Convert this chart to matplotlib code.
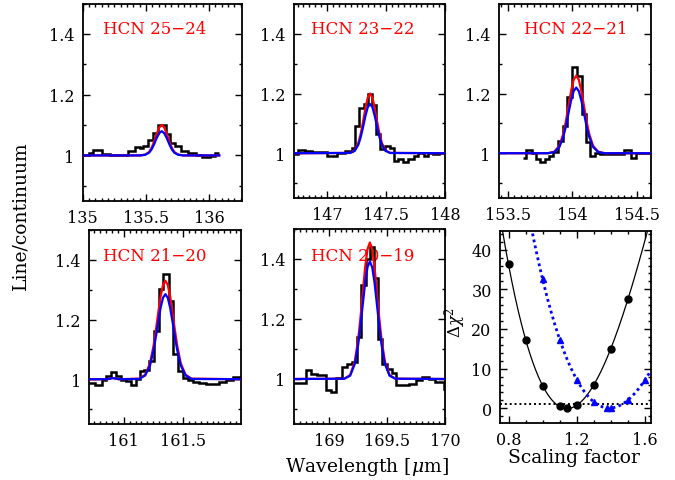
import numpy as np
import matplotlib
matplotlib.use("Agg")
import matplotlib.pyplot as plt
from matplotlib.ticker import MultipleLocator, FixedLocator, FuncFormatter

plt.rcParams['font.family'] = 'DejaVu Serif'
plt.rcParams['mathtext.fontset'] = 'dejavuserif'

# ---- observed spectra (bin edges, line/continuum) ----
edges1 = [135.00, 135.05, 135.085, 135.155, 135.215, 135.27, 135.36, 135.41, 135.45, 135.48,
          135.52, 135.555, 135.595, 135.655, 135.69, 135.73, 135.78, 135.83, 135.90, 135.94,
          136.005, 136.045, 136.08]
flux1 = [1.002, 1.008, 1.018, 1.005, 1.003, 1.001, 1.014, 1.028, 1.024, 1.03, 1.05, 1.075,
         1.10, 1.07, 1.04, 1.032, 1.016, 1.008, 1.0, 0.995, 0.999, 1.008]

edges2 = [146.72, 146.757, 146.813, 146.87, 147.0, 147.085, 147.153, 147.21, 147.24, 147.275,
          147.31, 147.345, 147.38, 147.416, 147.446, 147.493, 147.53, 147.57, 147.60, 147.648,
          147.69, 147.733, 147.775, 147.818, 147.86, 147.90, 147.945, 148.0]
flux2 = [0.997, 1.011, 1.006, 1.004, 0.99, 1.0, 1.008, 1.018, 1.09, 1.15, 1.165, 1.20, 1.16,
         1.065, 1.013, 1.025, 1.017, 0.975, 0.98, 0.972, 0.982, 0.99, 1.0, 0.99, 1.0, 0.997, 1.0]

edges3 = [153.616, 153.642, 153.686, 153.719, 153.75, 153.79, 153.82, 153.853, 153.892, 153.925,
          153.96, 153.999, 154.035, 154.073, 154.107, 154.138, 154.172, 154.21, 154.326, 154.403,
          154.455, 154.494, 154.532, 154.602]
flux3 = [0.983, 1.011, 1.0, 0.982, 0.969, 0.982, 0.991, 1.005, 1.04, 1.09, 1.19, 1.29, 1.26,
         1.13, 1.036, 0.991, 1.002, 0.997, 0.998, 1.01, 0.985, 1.002, 1.0]

edges4 = [160.71, 160.756, 160.817, 160.851, 160.893, 160.935, 160.977, 161.019, 161.062, 161.104,
          161.138, 161.174, 161.216, 161.258, 161.295, 161.334, 161.379, 161.418, 161.455, 161.497,
          161.539, 161.582, 161.638, 161.694, 161.75, 161.806, 161.863, 161.919, 161.99]
flux4 = [0.988, 0.979, 0.996, 1.01, 1.023, 1.01, 0.999, 0.993, 0.982, 1.001, 1.026, 1.032, 1.062,
         1.163, 1.302, 1.353, 1.263, 1.085, 1.027, 1.003, 0.999, 0.99, 0.988, 0.983, 0.985, 0.992,
         0.999, 1.009]

edges5 = [168.70, 168.798, 168.841, 168.898, 168.97, 169.013, 169.056, 169.108, 169.157, 169.20,
          169.237, 169.28, 169.318, 169.349, 169.387, 169.424, 169.458, 169.496, 169.539, 169.579,
          169.631, 169.688, 169.746, 169.803, 169.861, 169.918, 169.99, 170.0]
flux5 = [0.988, 1.029, 1.018, 1.012, 0.965, 0.957, 1.003, 1.04, 1.05, 1.057, 1.14, 1.314, 1.40,
         1.44, 1.336, 1.135, 1.05, 1.035, 1.02, 0.979, 0.979, 0.985, 0.996, 1.007, 1.0, 0.99, 0.968]

# ---- model profiles (red / blue) ----
wl_mod1 = [135.0, 135.455, 135.495, 135.525, 135.545, 135.565, 135.585, 135.605, 135.625,
           135.645, 135.665, 135.685, 135.705, 135.725, 135.755, 135.795, 136.08]
red1 = [1.0, 1.0, 1.003, 1.011, 1.025, 1.046, 1.071, 1.092, 1.100, 1.092, 1.071, 1.046, 1.025,
        1.011, 1.003, 1.0, 1.0]
blue1 = [1.0, 1.0, 1.002, 1.009, 1.020, 1.037, 1.057, 1.073, 1.080, 1.073, 1.057, 1.037, 1.020,
         1.009, 1.002, 1.0, 1.0]

wl_mod2 = [146.72, 147.195, 147.235, 147.265, 147.285, 147.305, 147.325, 147.345, 147.365,
           147.385, 147.405, 147.425, 147.445, 147.465, 147.495, 147.535, 148.0]
red2 = [1.0, 1.001, 1.010, 1.034, 1.064, 1.105, 1.150, 1.186, 1.200, 1.186, 1.150, 1.105, 1.064,
        1.034, 1.010, 1.001, 1.0]
blue2 = [1.0, 1.001, 1.008, 1.028, 1.053, 1.087, 1.124, 1.154, 1.165, 1.154, 1.124, 1.087, 1.053,
         1.028, 1.008, 1.001, 1.0]

wl_mod3 = [153.433, 153.81, 153.86, 153.90, 153.93, 153.95, 153.97, 153.99, 154.01, 154.03,
           154.05, 154.07, 154.09, 154.11, 154.13, 154.16, 154.20, 154.25, 154.608]
red3 = [1.0, 1.0, 1.005, 1.025, 1.065, 1.107, 1.158, 1.208, 1.246, 1.260, 1.246, 1.208, 1.158,
        1.107, 1.065, 1.025, 1.005, 1.0, 1.0]
blue3 = [1.0, 1.0, 1.004, 1.021, 1.055, 1.090, 1.134, 1.176, 1.208, 1.220, 1.208, 1.176, 1.134,
         1.090, 1.055, 1.021, 1.004, 1.0, 1.0]

wl_mod4 = [160.71, 160.86, 160.91, 160.96, 161.132, 161.182, 161.222, 161.252, 161.272, 161.292,
           161.312, 161.332, 161.352, 161.372, 161.392, 161.412, 161.432, 161.452, 161.482,
           161.522, 161.572, 161.99]
red4 = [1.0, 1.0, 1.004, 1.0, 1.002, 1.015, 1.053, 1.112, 1.165, 1.224, 1.278, 1.316, 1.330,
        1.316, 1.278, 1.224, 1.165, 1.112, 1.053, 1.015, 1.002, 1.0]
blue4 = [1.0, 1.0, 1.004, 1.0, 1.001, 1.013, 1.046, 1.097, 1.143, 1.193, 1.240, 1.273, 1.285,
         1.273, 1.240, 1.193, 1.143, 1.097, 1.046, 1.013, 1.001, 1.0]

wl_mod5 = [168.70, 169.132, 169.182, 169.222, 169.252, 169.272, 169.292, 169.312, 169.332,
           169.352, 169.372, 169.392, 169.412, 169.432, 169.452, 169.482, 169.522, 169.572, 170.0]
red5 = [1.0, 1.001, 1.013, 1.058, 1.134, 1.208, 1.293, 1.374, 1.433, 1.455, 1.433, 1.374, 1.293,
        1.208, 1.134, 1.058, 1.013, 1.001, 1.0]
blue5 = [1.0, 1.001, 1.011, 1.050, 1.116, 1.180, 1.252, 1.323, 1.373, 1.392, 1.373, 1.323, 1.252,
         1.180, 1.116, 1.050, 1.011, 1.001, 1.0]

line_names = ['HCN 25\u221224', 'HCN 23\u221222', 'HCN 22\u221221', 'HCN 21\u221220', 'HCN 20\u221219']

# ---- chi-square vs scaling factor ----
scale_k = [0.8, 0.9, 1.0, 1.1, 1.14, 1.2, 1.3, 1.4, 1.5]
chi_k = [36.3, 17.2, 5.7, 0.5, 0.0, 0.8, 5.9, 15.0, 27.6]
scale_b = [1.0, 1.1, 1.2, 1.3, 1.38, 1.4, 1.5, 1.6]
chi_b = [32.5, 17.3, 7.2, 1.7, 0.1, 0.0, 2.1, 7.2]

W, H = 675, 481
fig = plt.figure(figsize=(W / 100, H / 100), dpi=100)


def rect(l, r, t, b):
    return [l / W, 1 - b / H, (r - l) / W, (b - t) / H]


fmt = FuncFormatter(lambda v, p: '%g' % round(v, 3))


def style(ax, xmaj, xmin, ymaj, ymin):
    ax.xaxis.set_major_locator(FixedLocator(xmaj))
    ax.xaxis.set_minor_locator(MultipleLocator(xmin))
    ax.yaxis.set_major_locator(FixedLocator(ymaj))
    ax.yaxis.set_minor_locator(MultipleLocator(ymin))
    ax.xaxis.set_major_formatter(fmt)
    ax.yaxis.set_major_formatter(fmt)
    ax.tick_params(which='both', direction='in', top=True, right=True, labelsize=11.5, width=1.0)
    ax.tick_params(which='major', length=5, pad=6)
    ax.tick_params(which='minor', length=2.5)
    for s in ax.spines.values():
        s.set_linewidth(1.3)


panels = [
    (rect(82.7, 242, 4.5, 202), (135.0, 136.26), [135, 135.5, 136], edges1, flux1, wl_mod1, red1, blue1, (102.7, 30)),
    (rect(294, 445, 5, 199), (146.72, 148.0), [147, 147.5, 148], edges2, flux2, wl_mod2, red2, blue2, (310.7, 30)),
    (rect(499, 651, 5, 199), (153.433, 154.608), [153.5, 154, 154.5], edges3, flux3, wl_mod3, red3, blue3, (524, 30)),
    (rect(89.3, 241, 231, 425), (160.71, 161.99), [161, 161.5], edges4, flux4, wl_mod4, red4, blue4, (102.7, 257)),
    (rect(294, 445, 230, 425), (168.698, 170.0), [169, 169.5, 170], edges5, flux5, wl_mod5, red5, blue5, (310.7, 257)),
]

for i, (r, xl, xt, ed, fl, wm, rm, bm, lab) in enumerate(panels):
    ax = fig.add_axes(r)
    ax.stairs(fl, ed, color='black', lw=1.8, baseline=None, zorder=2)
    ax.plot(wm, rm, color='red', lw=1.6, zorder=3)
    ax.plot(wm, bm, color='blue', lw=1.6, zorder=4)
    ax.set_xlim(*xl)
    ax.set_ylim(0.85, 1.5)
    style(ax, xt, 0.05, [1.0, 1.2, 1.4], 0.1)
    ax.text(lab[0] / W, 1 - lab[1] / H, line_names[i], color='red', fontsize=12,
            ha='left', va='center', transform=fig.transFigure, zorder=1)

# chi-square panel
ax6 = fig.add_axes(rect(500, 651, 232, 424))
ck = np.polyfit(scale_k, chi_k, 3)
cb = np.polyfit(scale_b, chi_b, 3)
xk = np.linspace(0.74, 1.66, 300)
xb = np.linspace(0.90, 1.66, 300)
ax6.axhline(1.0, color='black', lw=1.4, ls=(0, (1, 1.5)))
ax6.plot(xk, np.polyval(ck, xk), color='black', lw=0.9)
ax6.plot(scale_k, chi_k, 'o', color='black', ms=5)
ax6.plot(xb, np.polyval(cb, xb), color='blue', lw=2.0, ls=(0, (1, 1.2)))
ax6.plot(scale_b, chi_b, '^', color='blue', ms=5)
ax6.set_xlim(0.75, 1.635)
ax6.set_ylim(-3.7, 44.7)
style(ax6, [0.8, 1.2, 1.6], 0.1, [0, 10, 20, 30, 40], 2)

fig.text(20 / W, 1 - 216 / H, 'Line/continuum', rotation=90, ha='center', va='center', fontsize=13.5)
fig.text(367 / W, 1 - 467 / H, r'Wavelength [$\mu$m]', ha='center', va='center', fontsize=13.5)
fig.text(574 / W, 1 - 458 / H, 'Scaling factor', ha='center', va='center', fontsize=13.5)
fig.text(455 / W, 1 - 323 / H, r'$\Delta\chi^2$', rotation=90, ha='center', va='center', fontsize=12)

fig.savefig('out.png', dpi=100)
